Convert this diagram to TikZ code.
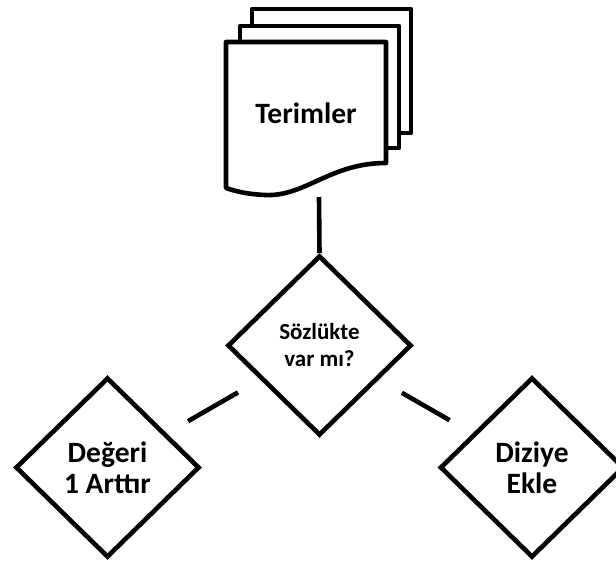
\documentclass[tikz,border=0pt]{standalone}
\usepackage{fontspec}
\setmainfont{Carlito}
\usetikzlibrary{shapes.geometric}
\begin{document}
\begin{tikzpicture}[x=1pt,y=-1pt, line width=4.6pt, line join=round,
 dia/.style={draw, shape=diamond, minimum width=184pt, minimum height=180pt, inner sep=0pt, align=center, fill=white, line join=miter},
 big/.style={font=\fontsize{29.5}{31}\selectfont\bfseries},
 small/.style={font=\fontsize{23}{27}\selectfont\bfseries},
 page/.style={draw, fill=white}]
\useasboundingbox (0,0) rectangle (616,564);
% document stack
\draw[page] (252,9) rectangle (411,133);
\draw[page] (240,26) rectangle (399,148);
\draw[page] (226,42) -- (386,42) -- (386,163)
  .. controls (330,163) and (305,197) .. (265,195)
  .. controls (245,194) and (235,191) .. (226,188) -- cycle;
\node[big, inner sep=0pt] (doc) at (306,113) {Terimler};
\coordinate (docb) at (319,197);
% diamonds
\node[dia, small] (cen) at (319.5,345.5) {Sözlükte\\var mı?};
\node[dia, big] (lft) at (107.5,467.5) {Değeri\\1 Arttır};
\node[dia, big] (rgt) at (532,467.5) {Diziye\\Ekle};
% connectors
\draw (docb) -- (cen.north);
\draw[shorten <=94pt, shorten >=93pt] (cen.center) -- (lft.center);
\draw[shorten <=95pt, shorten >=95pt] (cen.center) -- (rgt.center);
\end{tikzpicture}
\end{document}
